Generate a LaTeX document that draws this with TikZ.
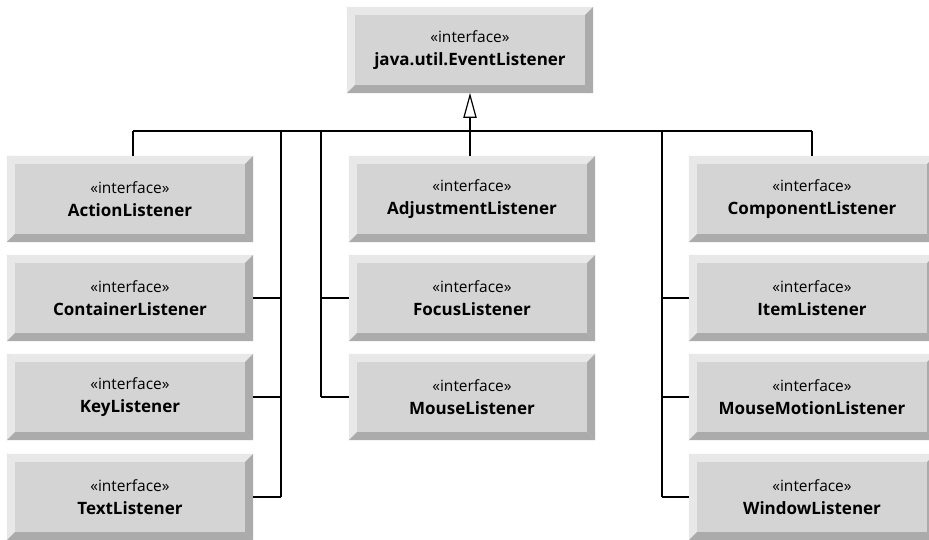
\documentclass[tikz,border=0pt]{standalone}
\usepackage{fontspec}
\setmainfont{Open Sans}
\definecolor{face}{HTML}{D4D4D4}
\definecolor{lite}{HTML}{E8E8E8}
\definecolor{dark}{HTML}{ABABAB}
\tikzset{
  iface/.style={minimum width=246pt, minimum height=86pt, inner sep=0pt, fill=face, align=center, text=black},
  conn/.style={draw=black, line width=1.3pt},
}
\newcommand{\ifc}[1]{{\fontsize{15.5}{18}\selectfont «interface»}\\[9pt]{\fontsize{17}{20}\selectfont\bfseries #1}}
\newcommand{\bevel}[1]{%
  \fill[lite] (#1.north west) -- (#1.north east) -- ([shift={(-8,8)}]#1.north east) -- ([shift={(8,8)}]#1.north west) -- cycle;
  \fill[lite] (#1.north west) -- ([shift={(8,8)}]#1.north west) -- ([shift={(8,-8)}]#1.south west) -- (#1.south west) -- cycle;
  \fill[dark] (#1.south west) -- (#1.south east) -- ([shift={(-8,-8)}]#1.south east) -- ([shift={(8,-8)}]#1.south west) -- cycle;
  \fill[dark] (#1.north east) -- ([shift={(-8,8)}]#1.north east) -- ([shift={(-8,-8)}]#1.south east) -- (#1.south east) -- cycle;
}
\begin{document}
\begin{tikzpicture}[x=1pt,y=-1pt]
\clip (0,0) rectangle (929,540);
\fill[white] (0,0) rectangle (929,540);
% nodes
\node[iface] (top) at (470,50) {\ifc{java.util.EventListener}};
\node[iface] (a1) at (130,199) {\ifc{ActionListener}};
\node[iface] (a2) at (130,298) {\ifc{ContainerListener}};
\node[iface] (a3) at (130,397) {\ifc{KeyListener}};
\node[iface] (a4) at (130,497) {\ifc{TextListener}};
\node[iface] (m1) at (472,199) {\ifc{AdjustmentListener}};
\node[iface] (m2) at (472,298) {\ifc{FocusListener}};
\node[iface] (m3) at (472,397) {\ifc{MouseListener}};
\node[iface] (c1) at (812,199) {\ifc{ComponentListener}};
\node[iface] (c2) at (812,298) {\ifc{ItemListener}};
\node[iface] (c3) at (812,397) {\ifc{MouseMotionListener}};
\node[iface] (c4) at (812,497) {\ifc{WindowListener}};
\foreach \n in {top,a1,a2,a3,a4,m1,m2,m3,c1,c2,c3,c4} {\bevel{\n}}
% junctions
\coordinate (jA) at (133,131);
\coordinate (jC) at (812,131);
\coordinate (bL) at (281,131);
\coordinate (bM) at (321,131);
\coordinate (bR) at (662,131);
\coordinate (tip) at ([yshift=-2pt]top.south);
\coordinate (tb) at ([yshift=-24pt]top.south);
% connectors
\draw[conn] (jA) -- (jC);
\draw[conn] (jA) -- (jA |- a1.north);
\draw[conn] (jC) -- (jC |- c1.north);
\draw[conn] (tb) -- (tb |- m1.north);
\draw[conn, fill=white, line width=1.2pt, line join=miter] (tip) -- ([shift={(6,0)}]tb) -- ([shift={(-6,0)}]tb) -- cycle;
\draw[conn] (bL) -- (bL |- a4.east);
\draw[conn] (a2.east) -- (a2.east -| bL);
\draw[conn] (a3.east) -- (a3.east -| bL);
\draw[conn] (a4.east) -- (a4.east -| bL);
\draw[conn] (bM) -- (bM |- m3.west);
\draw[conn] (m2.west) -- (m2.west -| bM);
\draw[conn] (m3.west) -- (m3.west -| bM);
\draw[conn] (bR) -- (bR |- c4.west);
\draw[conn] (c2.west) -- (c2.west -| bR);
\draw[conn] (c3.west) -- (c3.west -| bR);
\draw[conn] (c4.west) -- (c4.west -| bR);
\end{tikzpicture}
\end{document}
